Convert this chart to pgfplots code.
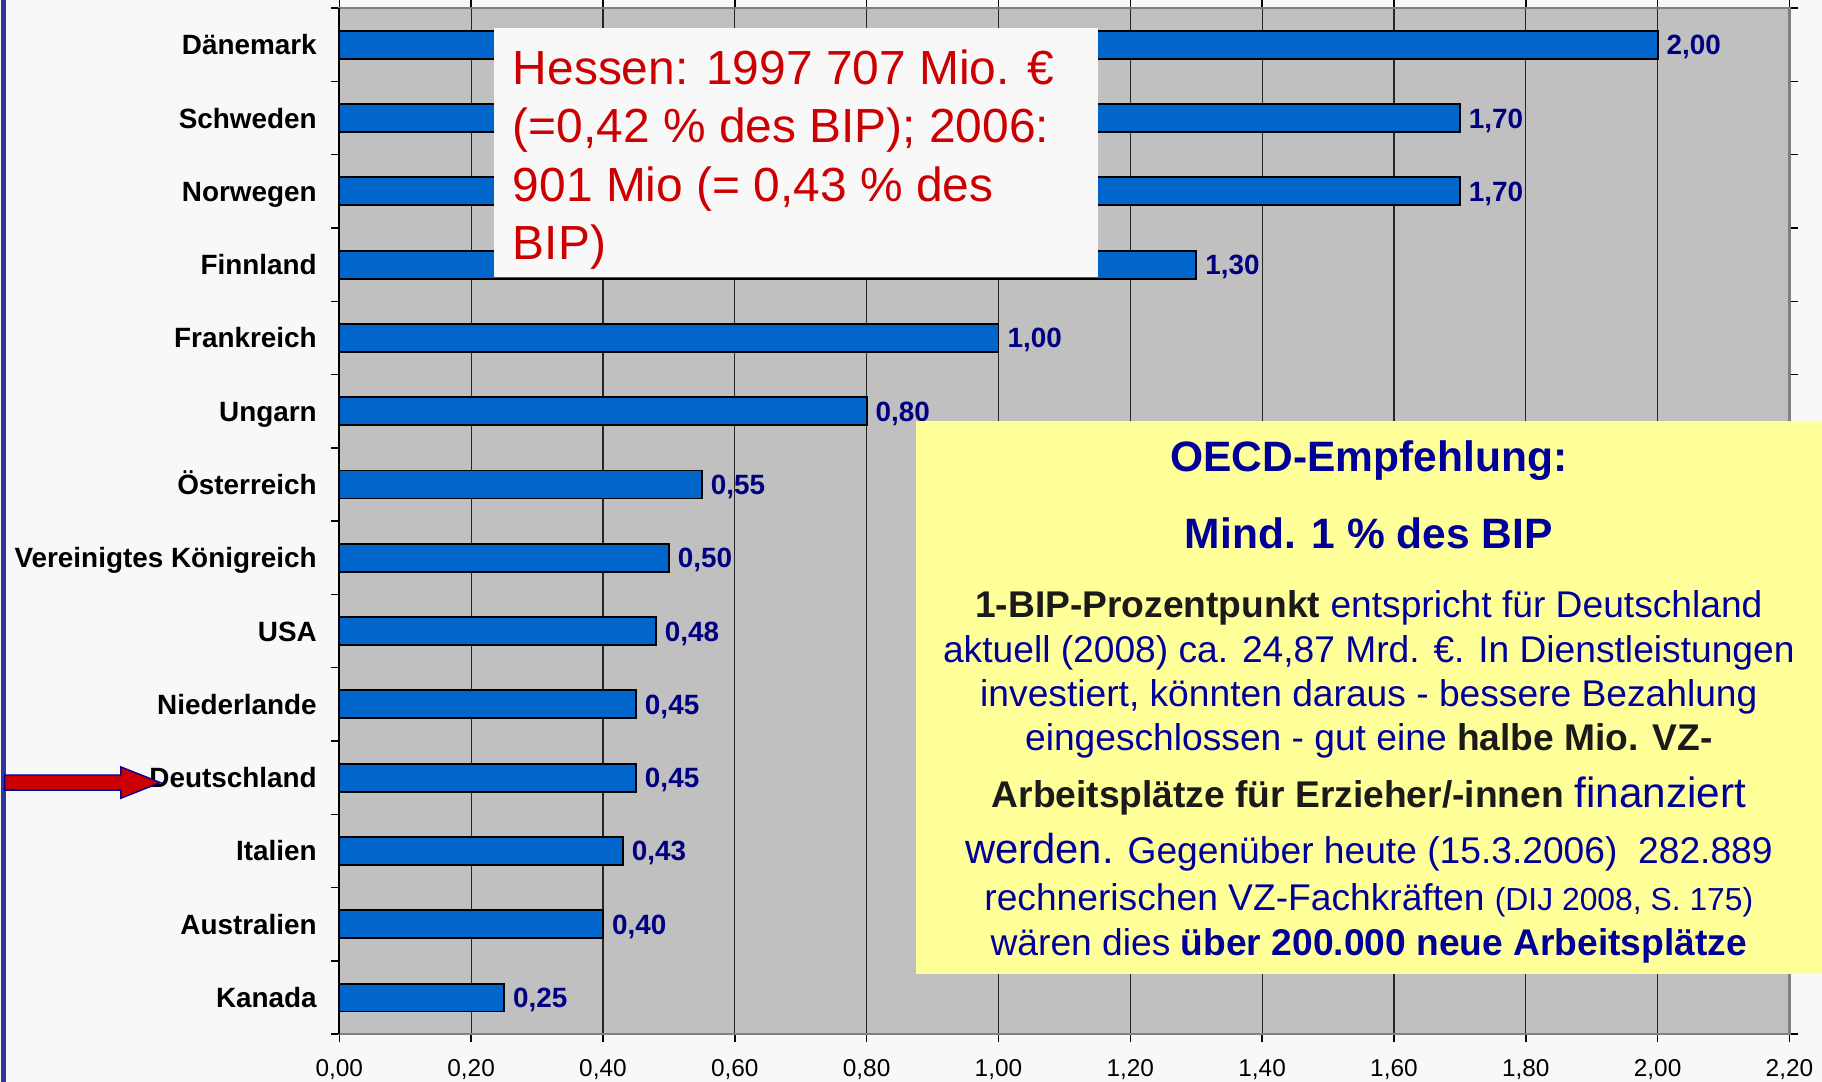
\documentclass[border=0pt]{standalone}
\usepackage{pgfplots}
\pgfplotsset{compat=1.18}
\usepackage{fontspec}
\setmainfont{Liberation Sans}
\definecolor{bgc}{HTML}{F8F8F8}
\definecolor{plotbg}{HTML}{C0C0C0}
\definecolor{barblue}{HTML}{0066CC}
\definecolor{valnavy}{HTML}{000080}
\definecolor{txtnavy}{HTML}{000099}
\definecolor{redtxt}{HTML}{CC0000}
\definecolor{yel}{HTML}{FFFF99}
\definecolor{darktxt}{HTML}{1A1A1A}
\definecolor{leftline}{HTML}{333399}
\begin{document}
\begin{tikzpicture}
\begin{scope}[x=0.5pt,y=-0.5pt,shift={(0,465.5pt)}]
\fill[bgc] (0,0) rectangle (1568,931);
\end{scope}
\begin{axis}[
  at={(146pt,20.5pt)}, anchor=south west,
  scale only axis, width=624pt, height=441.5pt,
  xbar, bar width=12pt,
  xmin=0, xmax=2.2, ymin=-0.5, ymax=13.5,
  axis background/.style={fill=plotbg},
  axis line style={draw=black!50, line width=1pt},
  tick align=outside, major tick length=3.5pt,
  tick style={black, line width=0.6pt},
  xtick={0,0.2,0.4,0.6,0.8,1,1.2,1.4,1.6,1.8,2,2.2},
  xticklabel={\pgfmathprintnumber[fixed,fixed zerofill,precision=2,use comma,assume math mode=true]{\tick}},
  xticklabel style={font=\fontsize{10.5}{12}\selectfont, yshift=-4pt},
  xmajorgrids, major x grid style={black!85, line width=0.5pt},
  ytick={-0.5,0.5,...,13.5}, yticklabels={},
  extra y ticks={0,1,2,3,4,5,6,7,8,9,10,11,12,13},
  extra y tick labels={Kanada,Australien,Italien,Deutschland,Niederlande,USA,Vereinigtes Königreich,Österreich,Ungarn,Frankreich,Finnland,Norwegen,Schweden,Dänemark},
  extra y tick style={major tick length=0pt, grid=none},
  yticklabel style={font=\bfseries\fontsize{12}{14}\selectfont, inner sep=0pt, xshift=-9.5pt, text height=8.6pt, text depth=0pt},
  clip=false,
  point meta=x,
  nodes near coords={\pgfmathprintnumber[fixed,fixed zerofill,precision=2,use comma,assume math mode=true]{\pgfplotspointmeta}},
  every node near coord/.append style={anchor=west, inner sep=0pt, xshift=3.5pt, text height=8.6pt, text depth=0pt, text=valnavy, font=\bfseries\fontsize{12}{14}\selectfont},
]
\addplot[fill=barblue, draw=black, line width=0.8pt] coordinates {
 (0.25,0) (0.40,1) (0.43,2) (0.45,3) (0.45,4) (0.48,5) (0.50,6)
 (0.55,7) (0.80,8) (1.00,9) (1.30,10) (1.70,11) (1.70,12) (2.00,13)};
\draw[black, line width=1pt] (axis cs:0,-0.5) -- (axis cs:0,13.5);
\end{axis}
\begin{scope}[x=0.5pt,y=-0.5pt,shift={(0,465.5pt)}]
% left blue line
\fill[leftline] (1,0) rectangle (5.5,931);
% red arrow
\filldraw[fill=redtxt, draw=txtnavy, line width=0.6pt] (4,667) -- (104,667) -- (104,660) -- (138,673.5) -- (104,687) -- (104,680) -- (4,680) -- cycle;
% red box
\fill[bgc] (425,24) rectangle (945,238);
\begin{scope}[every node/.style={anchor=base west, inner sep=0pt, text=redtxt, font=\fontsize{20.6}{25}\selectfont}]
\node at (441,73) {Hessen: 1997 707 Mio. €};
\node at (441,123) {(=0,42 \% des BIP); 2006:};
\node at (441,173) {901 Mio (= 0,43 \% des};
\node at (441,223) {BIP)};
\end{scope}
% yellow box
\fill[yel] (788,362) rectangle (1568,838);
\begin{scope}[every node/.style={anchor=base, inner sep=0pt, text=txtnavy, font=\fontsize{16}{19}\selectfont}]
\node[font=\bfseries\fontsize{18.3}{22}\selectfont] at (1178,406) {OECD-Empfehlung:};
\node[font=\bfseries\fontsize{18.3}{22}\selectfont] at (1178,472) {Mind. 1 \% des BIP};
\node at (1178,531) {\textcolor{darktxt}{\bfseries 1-BIP-Prozentpunkt} entspricht für Deutschland};
\node at (1178,570) {aktuell (2008) ca. 24,87 Mrd. €. In Dienstleistungen};
\node at (1178,608) {investiert, könnten daraus - bessere Bezahlung};
\node at (1178,646) {eingeschlossen - gut eine \textcolor{darktxt}{\bfseries halbe Mio. VZ-}};
\node at (1178,695) {\textcolor{darktxt}{\bfseries Arbeitsplätze für Erzieher/-innen} {\fontsize{18.2}{22}\selectfont finanziert}};
\node at (1178,743) {{\fontsize{18}{22}\selectfont werden.} Gegenüber heute (15.3.2006)\ \ 282.889};
\node at (1178,784) {rechnerischen VZ-Fachkräften {\fontsize{13.7}{16}\selectfont (DIJ 2008, S. 175)}};
\node at (1178,822) {wären dies {\bfseries über 200.000 neue Arbeitsplätze}};
\end{scope}
\end{scope}
\pgfresetboundingbox
\useasboundingbox (0,0) rectangle (784pt,465.5pt);
\end{tikzpicture}
\end{document}
